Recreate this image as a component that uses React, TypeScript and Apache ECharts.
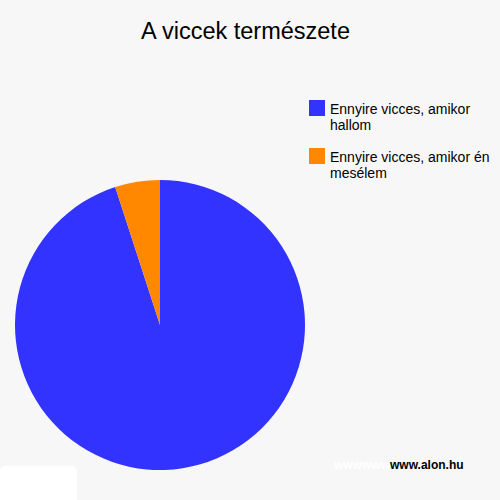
import React, { useEffect, useRef } from "react";
import * as echarts from "echarts";

const TITLE = "A viccek természete";
const categories = ["Ennyire vicces, amikor hallom", "Ennyire vicces, amikor én mesélem"];
const legendLines = [
  ["Ennyire vicces, amikor", "hallom"],
  ["Ennyire vicces, amikor én", "mesélem"],
];
const values = [95, 5];
const colors = ["#3333ff", "#ff8800"];

const FONT = "'Liberation Sans', Arial, sans-serif";

export default function App() {
  const ref = useRef<HTMLDivElement>(null);
  useEffect(() => {
    if (!ref.current) return;
    const chart = echarts.init(ref.current, null, { renderer: "svg" });
    const legendGraphics: any[] = [];
    categories.forEach((_, i) => {
      const top = 100 + i * 48;
      legendGraphics.push({
        type: "rect",
        shape: { x: 309, y: top, width: 16, height: 16 },
        style: { fill: colors[i] },
      });
      legendGraphics.push({
        type: "text",
        x: 330,
        y: top + 0.5,
        style: {
          text: legendLines[i].join("\n"),
          fill: "#000",
          font: "14px " + FONT,
          lineHeight: 16,
          align: "left",
          verticalAlign: "top",
        },
      });
    });
    chart.setOption({
      animation: false,
      backgroundColor: "#f7f7f7",
      title: {
        text: TITLE,
        left: 141,
        top: 18.5,
        padding: 0,
        textStyle: {
          fontFamily: FONT,
          fontSize: 23.5,
          fontWeight: "normal",
          color: "#000",
        },
      },
      series: [
        {
          type: "pie",
          center: [160, 325],
          radius: 145,
          startAngle: 90,
          clockwise: true,
          label: { show: false },
          labelLine: { show: false },
          emphasis: { disabled: true },
          itemStyle: { borderWidth: 0 },
          data: categories.map((name, i) => ({
            name,
            value: values[i],
            itemStyle: { color: colors[i] },
          })),
        },
      ],
      graphic: [
        ...legendGraphics,
        {
          type: "rect",
          shape: { x: 0, y: 466, width: 77, height: 40, r: 5 },
          style: { fill: "#ffffff" },
        },
        {
          type: "text",
          x: 390,
          y: 465,
          style: {
            text: "wwwwww",
            fill: "#ffffff",
            font: "bold 12px " + FONT,
            align: "right",
            verticalAlign: "middle",
          },
        },
        {
          type: "text",
          x: 390,
          y: 465,
          style: {
            text: "www.alon.hu",
            fill: "#000000",
            font: "bold 12px " + FONT,
            align: "left",
            verticalAlign: "middle",
          },
        },
      ],
    });
    return () => chart.dispose();
  }, []);
  return (
    <div
      ref={ref}
      style={{ position: "fixed", left: 0, top: 0, width: 500, height: 500 }}
    />
  );
}
